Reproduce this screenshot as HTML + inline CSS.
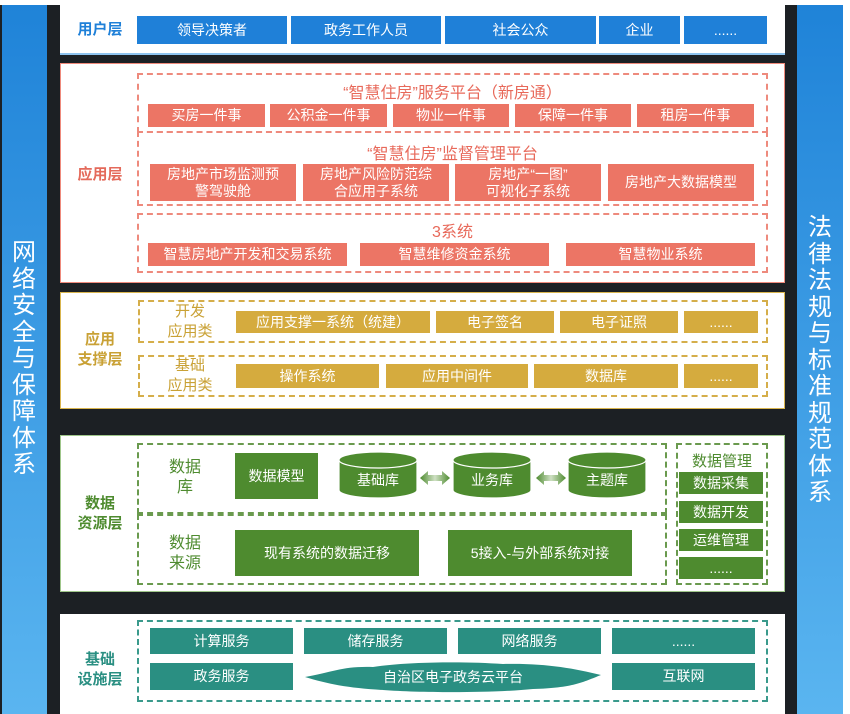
<!DOCTYPE html>
<html><head><meta charset="utf-8"><style>
*{margin:0;padding:0;box-sizing:border-box}
body{width:850px;height:714px;background:#1c2024;position:relative;overflow:hidden;font-family:"Liberation Sans","Noto Sans CJK SC",sans-serif}
.a{position:absolute}
.pn{position:absolute;left:60px;width:725px;background:#fff}
.bx{position:absolute;color:#fff;font-size:14px;display:flex;align-items:center;justify-content:center;text-align:center;line-height:17px}
.u{background:#1f80d8}
.r{background:#ec7565}
.g{background:#d5ab3e}
.gr{background:#4e8b2f}
.t{background:#2a8f82}
.d{position:absolute;border:2px dashed}
.lb{position:absolute;font-weight:bold;font-size:15px;text-align:center;line-height:20px}
.vt{position:absolute;color:#fff;font-size:24px;line-height:26.5px;width:44px;text-align:center}
.ttl{position:absolute;color:#e8695a;font-size:16px;text-align:center}
</style></head><body>
<div class="a" style="left:0;top:0;width:850px;height:5px;background:#fff"></div>
<div class="a" style="left:2px;top:5px;width:45px;height:709px;background:linear-gradient(#1f83d8,#5ab5f0)"></div>
<div class="vt" style="left:2px;top:240px">网<br>络<br>安<br>全<br>与<br>保<br>障<br>体<br>系</div>
<div class="a" style="left:797px;top:5px;width:46px;height:709px;background:linear-gradient(#1f83d8,#5ab5f0)"></div>
<div class="vt" style="left:798px;top:215px">法<br>律<br>法<br>规<br>与<br>标<br>准<br>规<br>范<br>体<br>系</div>
<div class="a" style="left:843px;top:0;width:7px;height:714px;background:#fff"></div>

<!-- user -->
<div class="pn" style="top:5px;height:50px;border-bottom:2px solid #8ec3ee"></div>
<div class="lb" style="left:70px;top:20px;width:60px;color:#1f80d8">用户层</div>
<div class="bx u" style="left:137px;top:16px;width:150px;height:28px">领导决策者</div>
<div class="bx u" style="left:291px;top:16px;width:150px;height:28px">政务工作人员</div>
<div class="bx u" style="left:445px;top:16px;width:151px;height:28px">社会公众</div>
<div class="bx u" style="left:599px;top:16px;width:81px;height:28px">企业</div>
<div class="bx u" style="left:684px;top:16px;width:83px;height:28px">......</div>

<!-- app -->
<div class="pn" style="top:63px;height:220px;border:1px solid #ef8a7c"></div>
<div class="lb" style="left:70px;top:165px;width:60px;color:#e46a5b">应用层</div>
<div class="d" style="left:137px;top:73px;width:631px;height:60px;border-color:#ee8a7d"></div>
<div class="ttl" style="left:137px;top:79px;width:631px">“智慧住房”服务平台（新房通）</div>
<div class="bx r" style="left:148px;top:104px;width:117px;height:23px">买房一件事</div>
<div class="bx r" style="left:270px;top:104px;width:117px;height:23px">公积金一件事</div>
<div class="bx r" style="left:393px;top:104px;width:116px;height:23px">物业一件事</div>
<div class="bx r" style="left:515px;top:104px;width:116px;height:23px">保障一件事</div>
<div class="bx r" style="left:637px;top:104px;width:117px;height:23px">租房一件事</div>
<div class="d" style="left:137px;top:131px;width:631px;height:75px;border-color:#ee8a7d"></div>
<div class="ttl" style="left:137px;top:140px;width:631px">“智慧住房”监督管理平台</div>
<div class="bx r" style="left:150px;top:164px;width:146px;height:37px">房地产市场监测预<br>警驾驶舱</div>
<div class="bx r" style="left:303px;top:164px;width:146px;height:37px">房地产风险防范综<br>合应用子系统</div>
<div class="bx r" style="left:455px;top:164px;width:146px;height:37px">房地产“一图”<br>可视化子系统</div>
<div class="bx r" style="left:608px;top:164px;width:146px;height:37px">房地产大数据模型</div>
<div class="d" style="left:137px;top:213px;width:631px;height:60px;border-color:#ee8a7d"></div>
<div class="ttl" style="left:137px;top:218px;width:631px">3系统</div>
<div class="bx r" style="left:148px;top:243px;width:199px;height:23px">智慧房地产开发和交易系统</div>
<div class="bx r" style="left:360px;top:243px;width:189px;height:23px">智慧维修资金系统</div>
<div class="bx r" style="left:566px;top:243px;width:189px;height:23px">智慧物业系统</div>

<!-- support -->
<div class="pn" style="top:292px;height:117px;border:1px solid #d9b54e"></div>
<div class="lb" style="left:70px;top:330px;width:60px;color:#c9a135">应用<br>支撑层</div>
<div class="d" style="left:138px;top:300px;width:630px;height:43px;border-color:#d5ae4a"></div>
<div class="lb" style="left:160px;top:302px;width:60px;color:#c9a135;font-weight:normal;font-size:15px">开发<br>应用类</div>
<div class="bx g" style="left:236px;top:311px;width:194px;height:22px">应用支撑一系统（统建）</div>
<div class="bx g" style="left:436px;top:311px;width:118px;height:22px">电子签名</div>
<div class="bx g" style="left:560px;top:311px;width:118px;height:22px">电子证照</div>
<div class="bx g" style="left:684px;top:311px;width:74px;height:22px">......</div>
<div class="d" style="left:138px;top:355px;width:630px;height:42px;border-color:#d5ae4a"></div>
<div class="lb" style="left:160px;top:356px;width:60px;color:#c9a135;font-weight:normal;font-size:15px">基础<br>应用类</div>
<div class="bx g" style="left:236px;top:364px;width:143px;height:24px">操作系统</div>
<div class="bx g" style="left:386px;top:364px;width:142px;height:24px">应用中间件</div>
<div class="bx g" style="left:534px;top:364px;width:144px;height:24px">数据库</div>
<div class="bx g" style="left:684px;top:364px;width:74px;height:24px">......</div>

<!-- data -->
<div class="pn" style="top:435px;height:157px;border:1px solid #9fc68a"></div>
<div class="lb" style="left:70px;top:494px;width:60px;color:#4e8b2f">数据<br>资源层</div>
<div class="d" style="left:137px;top:443px;width:530px;height:71px;border-color:#6a9a4e"></div>
<div class="d" style="left:137px;top:514px;width:530px;height:71px;border-color:#6a9a4e"></div>
<div class="lb" style="left:160px;top:458px;width:50px;color:#4e8b2f;font-weight:normal;font-size:16px">数据<br>库</div>
<div class="lb" style="left:160px;top:534px;width:50px;color:#4e8b2f;font-weight:normal;font-size:16px">数据<br>来源</div>
<div class="bx gr" style="left:235px;top:453px;width:83px;height:46px">数据模型</div>
<svg class="a" style="left:330px;top:448px" width="330" height="56">
<defs><linearGradient id="ag" x1="0" x2="1"><stop offset="0" stop-color="#4e8b2f"/><stop offset=".5" stop-color="#cfe0c4"/><stop offset="1" stop-color="#4e8b2f"/></linearGradient></defs>
<g fill="#4e8b2f" stroke="#fff" stroke-width="1.2">
<path d="M9 12 v30 a39 8 0 0 0 78 0 v-30 z"/><ellipse cx="48" cy="12" rx="39" ry="8"/>
<path d="M123 12 v30 a39 8 0 0 0 78 0 v-30 z"/><ellipse cx="162" cy="12" rx="39" ry="8"/>
<path d="M238 12 v30 a39 8 0 0 0 78 0 v-30 z"/><ellipse cx="277" cy="12" rx="39" ry="8"/>
</g>
<path d="M90 30 l8 -7 v4 h14 v-4 l8 7 l-8 7 v-4 h-14 v4 z" fill="url(#ag)"/>
<path d="M206 30 l8 -7 v4 h14 v-4 l8 7 l-8 7 v-4 h-14 v4 z" fill="url(#ag)"/>
<g fill="#fff" font-size="14" text-anchor="middle" font-family="Liberation Sans,Noto Sans CJK SC,sans-serif">
<text x="48" y="37">基础库</text><text x="162" y="37">业务库</text><text x="277" y="37">主题库</text></g>
</svg>
<div class="bx gr" style="left:235px;top:530px;width:184px;height:46px">现有系统的数据迁移</div>
<div class="bx gr" style="left:448px;top:530px;width:184px;height:46px">5接入-与外部系统对接</div>
<div class="d" style="left:676px;top:443px;width:92px;height:142px;border-color:#6a9a4e"></div>
<div class="a" style="left:676px;top:450px;width:92px;text-align:center;color:#4e8b2f;font-size:15px">数据管理</div>
<div class="bx gr" style="left:679px;top:472px;width:84px;height:22px">数据采集</div>
<div class="bx gr" style="left:679px;top:501px;width:84px;height:22px">数据开发</div>
<div class="bx gr" style="left:679px;top:529px;width:84px;height:22px">运维管理</div>
<div class="bx gr" style="left:679px;top:557px;width:84px;height:22px">......</div>

<!-- infra -->
<div class="pn" style="top:614px;height:100px"></div>
<div class="lb" style="left:70px;top:650px;width:60px;color:#2a8f82">基础<br>设施层</div>
<div class="d" style="left:137px;top:620px;width:631px;height:82px;border-color:#3a9a8c"></div>
<div class="bx t" style="left:150px;top:628px;width:143px;height:26px">计算服务</div>
<div class="bx t" style="left:304px;top:628px;width:143px;height:26px">储存服务</div>
<div class="bx t" style="left:458px;top:628px;width:143px;height:26px">网络服务</div>
<div class="bx t" style="left:612px;top:628px;width:143px;height:26px">......</div>
<div class="bx t" style="left:150px;top:663px;width:143px;height:27px">政务服务</div>
<svg class="a" style="left:303px;top:660px" width="300" height="34">
<path d="M2 17 C30 12 40 6 70 7 C100 2 160 1 200 4 C240 3 270 8 298 15 C280 22 270 28 230 29 C190 33 120 33 80 30 C45 28 25 24 2 17 Z" fill="#2a8f82"/>
<text x="150" y="22" fill="#fff" font-size="14" text-anchor="middle" font-family="Liberation Sans,Noto Sans CJK SC,sans-serif">自治区电子政务云平台</text>
</svg>
<div class="bx t" style="left:612px;top:663px;width:143px;height:27px">互联网</div>
</body></html>
